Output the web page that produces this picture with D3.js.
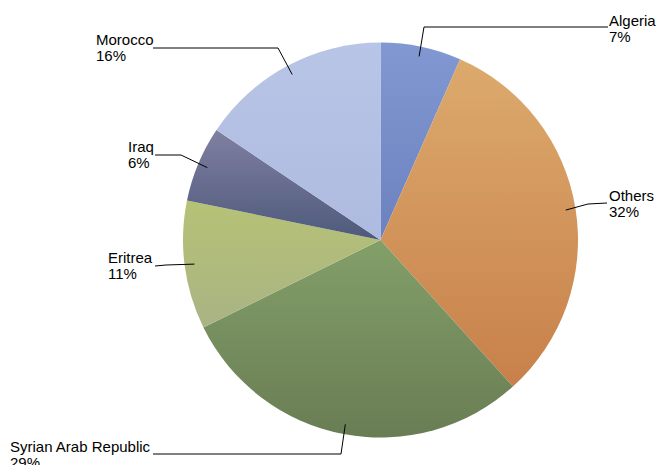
<!DOCTYPE html>
<html>
<head>
<meta charset="utf-8">
<script src="https://cdn.jsdelivr.net/npm/d3@7"></script>
<style>
  body { margin: 0; background: #fff; }
  svg text { font-family: "Liberation Sans", Arial, sans-serif; font-size: 15px; fill: #000; }
</style>
</head>
<body>
<svg id="chart" width="657" height="465"></svg>
<script>
// data, clockwise from 12 o'clock
const countries = ["Algeria", "Others", "Syrian Arab Republic", "Eritrea", "Iraq", "Morocco"];
const shares = [6.6, 31.7, 29.4, 10.5, 6.2, 15.6];
const pctLabels = ["7%", "32%", "29%", "11%", "6%", "16%"];

// gradient colours per slice (top, bottom)
const topColors = ["#8198d2", "#dcaa6c", "#839f69", "#b6c275", "#807fa2", "#b8c5e6"];
const bottomColors = ["#6b82bf", "#c8804b", "#697d54", "#a9b384", "#4e5a7b", "#aebbe0"];

// label layout: elbow point, end of leader, text anchor
const labelLayout = [
  { elbow: [424, 27], end: [608, 27], tx: 609, ty: 26, anchor: "start" },
  { elbow: [588, 204], end: [607, 203], tx: 609, ty: 201, anchor: "start" },
  { elbow: [341, 454], end: [153, 454], tx: 10, ty: 452, anchor: "start" },
  { elbow: [166, 265], end: [155, 266], tx: 108, ty: 263, anchor: "start" },
  { elbow: [181, 155], end: [155, 155], tx: 128, ty: 152, anchor: "start" },
  { elbow: [278, 48], end: [153, 48], tx: 96, ty: 45, anchor: "start" }
];

const cx = 380.5, cy = 240, radius = 197.5;

const svg = d3.select("#chart");

const defs = svg.append("defs");
countries.forEach((c, i) => {
  const g = defs.append("linearGradient")
    .attr("id", "grad" + i)
    .attr("x1", 0).attr("y1", 0)
    .attr("x2", 0).attr("y2", 1);
  g.append("stop").attr("offset", "0%").attr("stop-color", topColors[i]);
  g.append("stop").attr("offset", "100%").attr("stop-color", bottomColors[i]);
});

const pie = d3.pie().sort(null).value(d => d)(shares);
const arc = d3.arc().innerRadius(0).outerRadius(radius);

const chart = svg.append("g").attr("transform", `translate(${cx},${cy})`);

chart.selectAll("path.slice")
  .data(pie)
  .enter()
  .append("path")
  .attr("class", "slice")
  .attr("d", arc)
  .attr("fill", (d, i) => `url(#grad${i})`);

// leader lines
const inner = d3.arc().innerRadius(radius * 0.95).outerRadius(radius * 0.95);
svg.selectAll("polyline.leader")
  .data(pie)
  .enter()
  .append("polyline")
  .attr("class", "leader")
  .attr("points", (d, i) => {
    const p = inner.centroid(d);
    const L = labelLayout[i];
    return [[p[0] + cx, p[1] + cy], L.elbow, L.end].map(q => q.join(",")).join(" ");
  })
  .attr("fill", "none")
  .attr("stroke", "#000")
  .attr("stroke-width", 1);

const labels = svg.selectAll("text.lbl")
  .data(countries)
  .enter()
  .append("text")
  .attr("class", "lbl")
  .attr("x", (d, i) => labelLayout[i].tx)
  .attr("y", (d, i) => labelLayout[i].ty)
  .attr("text-anchor", (d, i) => labelLayout[i].anchor);

labels.append("tspan").text(d => d);
labels.append("tspan")
  .attr("x", (d, i) => labelLayout[i].tx)
  .attr("dy", 16)
  .text((d, i) => pctLabels[i]);
</script>
</body>
</html>
